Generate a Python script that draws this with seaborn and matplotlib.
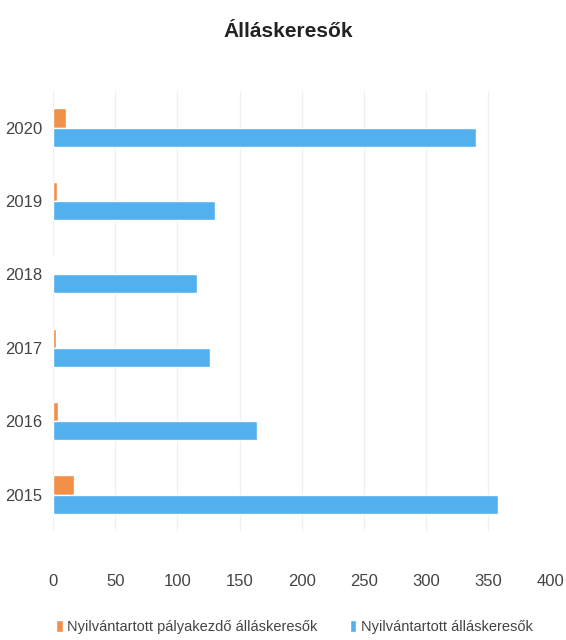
import pandas as pd
import matplotlib
matplotlib.use("Agg")
import matplotlib.pyplot as plt
import seaborn as sns

# data
years = ["2020", "2019", "2018", "2017", "2016", "2015"]
palyakezdo = [10, 3, 1, 2, 4, 17]
allaskeresok = [340, 130, 116, 126, 164, 358]
series_names = ["Nyilvántartott pályakezdő álláskeresők", "Nyilvántartott álláskeresők"]
colors = ["#F2904A", "#52B0EE"]
xticks = [0, 50, 100, 150, 200, 250, 300, 350, 400]

df = pd.DataFrame({
    "Év": years * 2,
    "Érték": palyakezdo + allaskeresok,
    "Sorozat": [series_names[0]] * len(years) + [series_names[1]] * len(years),
})

sns.set_style("white")
plt.rcParams["font.family"] = ["Liberation Sans", "DejaVu Sans"]

fig = plt.figure(figsize=(5.66, 6.40), dpi=100)
ax = fig.add_axes([0.094, 0.17, 0.878, 0.688])

sns.barplot(data=df, x="Érték", y="Év", hue="Sorozat",
            order=years, hue_order=series_names, palette=colors, saturation=1,
            orient="h", width=0.52, gap=0.0, ax=ax, legend=True)

ax.set_xlim(0, 400)
ax.set_xticks(xticks)
ax.set_xlabel("")
ax.set_ylabel("")
ax.grid(axis="x", color="#f0f0f0", linewidth=1)
ax.set_axisbelow(True)
for s in ax.spines.values():
    s.set_visible(False)
ax.tick_params(axis="x", length=0, pad=31, labelsize=12, labelcolor="#444444")
ax.tick_params(axis="y", length=0, pad=8, labelsize=12, labelcolor="#444444")

ax.legend_.remove()
handles, labels = ax.get_legend_handles_labels()
fig.legend(handles, labels, loc="center", bbox_to_anchor=(0.52, 0.02), ncol=2,
           frameon=False, fontsize=10.5, handlelength=0.45, handleheight=0.9,
           handletextpad=0.3, columnspacing=2.2, labelcolor="#444444")

fig.suptitle("Álláskeresők", x=0.51, y=0.965, fontsize=15, fontweight="bold", color="#222222")

fig.savefig("out.png", dpi=100)
